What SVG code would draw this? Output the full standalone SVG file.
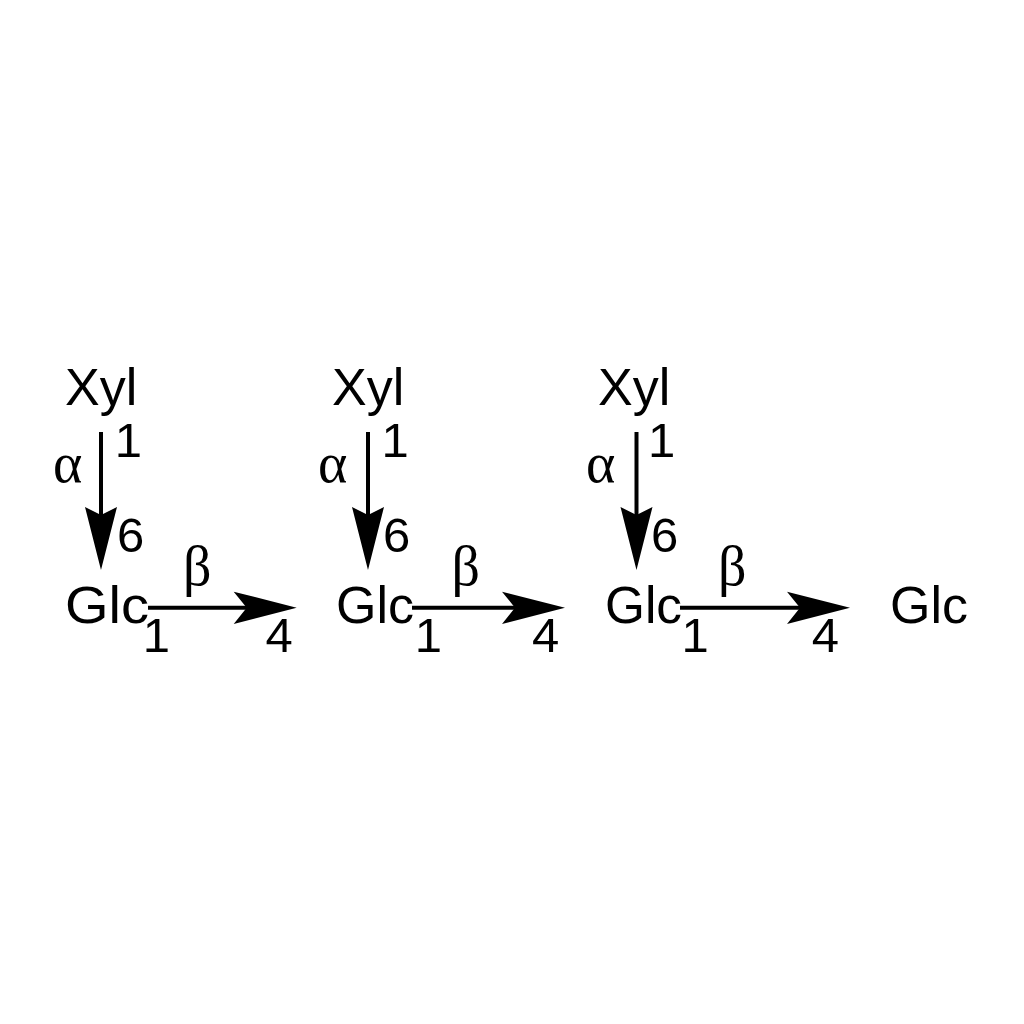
<svg xmlns="http://www.w3.org/2000/svg" width="1024" height="1024" viewBox="0 0 1024 1024">
<style>
.node{font-family:"Liberation Sans",Arial,sans-serif;font-size:52px;fill:#000}
.num{font-family:"Liberation Sans",Arial,sans-serif;font-size:49px;fill:#000}
.greek{font-family:"Liberation Serif","Times New Roman",serif;font-size:56px;fill:#000}
.ln{stroke:#000;stroke-width:4;fill:none}
.hd{fill:#000;stroke:none}
</style>
<rect width="1024" height="1024" fill="#fff"/>
<g id="xyl1"><text class="node" x="65" y="405">Xyl</text></g>
<g id="xyl2"><text class="node" x="332" y="405">Xyl</text></g>
<g id="xyl3"><text class="node" x="598" y="405">Xyl</text></g>
<g id="glc1"><text class="node" x="65" y="622.5" textLength="84" lengthAdjust="spacingAndGlyphs">Glc</text></g>
<g id="glc2"><text class="node" x="336" y="622.5" textLength="78" lengthAdjust="spacingAndGlyphs">Glc</text></g>
<g id="glc3"><text class="node" x="605" y="622.5" textLength="77" lengthAdjust="spacingAndGlyphs">Glc</text></g>
<g id="glc4"><text class="node" x="890" y="622.5" textLength="78" lengthAdjust="spacingAndGlyphs">Glc</text></g>
<g id="connectors">
  <g id="e1">
    <line class="ln" x1="101" y1="432" x2="101" y2="515"/>
    <polygon class="hd" points="101,570 85,507 101,515 117,507"/>
    <text class="num" x="114.7" y="457">1</text>
    <text class="greek" x="53" y="482">α</text>
    <text class="num" x="117" y="552">6</text>
  </g>
  <g id="e2">
    <line class="ln" x1="148" y1="607.7" x2="247" y2="607.7"/>
    <polygon class="hd" points="296.7,607.7 233.7,591.7 246.7,607.7 233.7,624"/>
    <text class="num" x="142.7" y="652">1</text>
    <text class="greek" x="183" y="585">β</text>
    <text class="num" x="265.4" y="652">4</text>
  </g>
  <g id="e3">
    <line class="ln" x1="368" y1="432" x2="368" y2="515"/>
    <polygon class="hd" points="368,570 352,507 368,515 384,507"/>
    <text class="num" x="381.4" y="457">1</text>
    <text class="greek" x="318" y="482">α</text>
    <text class="num" x="383" y="552">6</text>
  </g>
  <g id="e4">
    <line class="ln" x1="412" y1="607.7" x2="515" y2="607.7"/>
    <polygon class="hd" points="565,607.7 502,591.7 515,607.7 502,624"/>
    <text class="num" x="414.7" y="652">1</text>
    <text class="greek" x="451.5" y="585">β</text>
    <text class="num" x="532" y="652">4</text>
  </g>
  <g id="e5">
    <line class="ln" x1="636.5" y1="432" x2="636.5" y2="515"/>
    <polygon class="hd" points="636.5,570 620.5,507 636.5,515 652.5,507"/>
    <text class="num" x="648" y="457">1</text>
    <text class="greek" x="586" y="482">α</text>
    <text class="num" x="651" y="552">6</text>
  </g>
  <g id="e6">
    <line class="ln" x1="680" y1="607.7" x2="800" y2="607.7"/>
    <polygon class="hd" points="850,607.7 787,591.7 800,607.7 787,624"/>
    <text class="num" x="681.4" y="652">1</text>
    <text class="greek" x="718" y="585">β</text>
    <text class="num" x="811.7" y="652">4</text>
  </g>
</g>
</svg>
